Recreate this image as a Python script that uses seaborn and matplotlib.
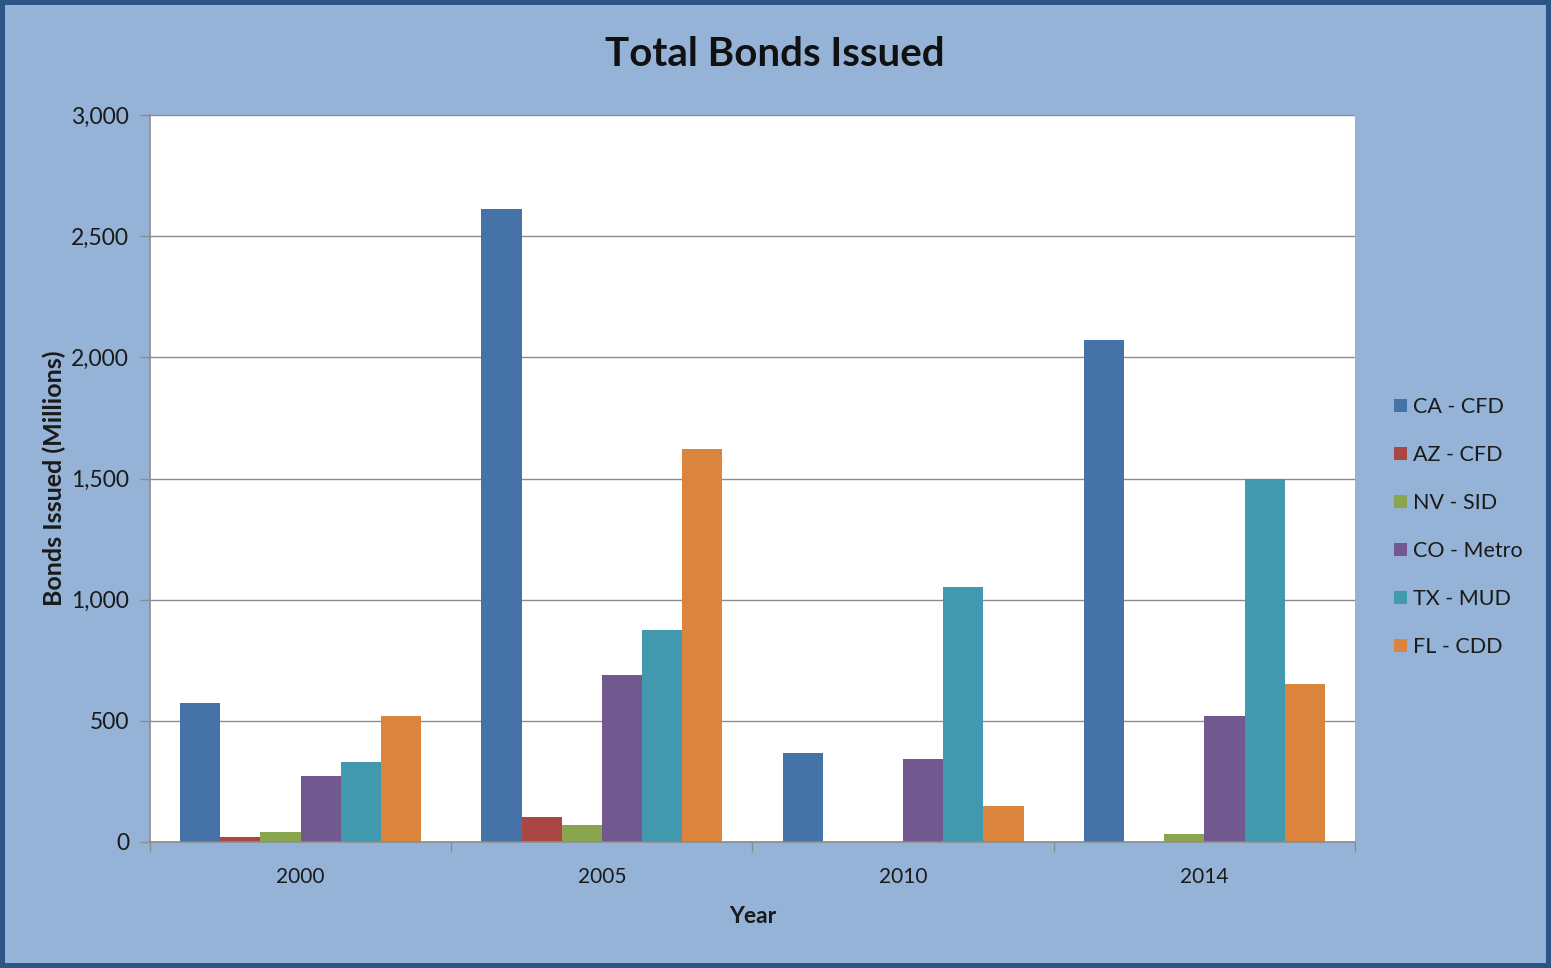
import matplotlib
matplotlib.use("Agg")
import matplotlib.pyplot as plt
import seaborn as sns
import pandas as pd
from matplotlib.ticker import FuncFormatter, FixedLocator

years = ["2000", "2005", "2010", "2014"]
series = ["CA - CFD", "AZ - CFD", "NV - SID", "CO - Metro", "TX - MUD", "FL - CDD"]
ca_cfd = [574, 2612, 368, 2072]
az_cfd = [20, 104, 0, 0]
nv_sid = [42, 70, 0, 32]
co_metro = [272, 689, 343, 520]
tx_mud = [330, 875, 1052, 1498]
fl_cdd = [520, 1622, 150, 652]
colors = ["#4572A7", "#AA4643", "#89A54E", "#71588F", "#4198AF", "#DB843D"]

values = [ca_cfd, az_cfd, nv_sid, co_metro, tx_mud, fl_cdd]
rows = []
for name, vals in zip(series, values):
    for y, v in zip(years, vals):
        rows.append({"Year": y, "Series": name, "Value": v})
df = pd.DataFrame(rows)

sns.set_theme(style="white")
plt.rcParams["font.family"] = ["Lato", "DejaVu Sans"]

fig = plt.figure(figsize=(15.51, 9.68), dpi=100)
fig.patch.set_facecolor("#95B3D7")
fig.patch.set_edgecolor("#2C5585")
fig.patch.set_linewidth(7)

W, H = 1551, 968
ax = fig.add_axes([150 / W, 1 - 842 / H, (1355 - 150) / W, (842 - 115) / H])
ax.set_facecolor("white")

sns.barplot(data=df, x="Year", y="Value", hue="Series", hue_order=series,
            order=years, palette=colors, width=0.8, saturation=1,
            edgecolor="none", linewidth=0, ax=ax, legend=True)

ax.set_ylim(0, 3000)
ax.set_xlim(-0.5, 3.5)
ax.set_yticks([0, 500, 1000, 1500, 2000, 2500, 3000])
ax.yaxis.set_major_formatter(FuncFormatter(lambda v, p: f"{int(v):,}"))
ax.yaxis.grid(True, color="#8C8C8C", linewidth=1)
ax.set_axisbelow(True)

ax.xaxis.set_minor_locator(FixedLocator([-0.5, 0.5, 1.5, 2.5, 3.5]))
ax.tick_params(axis="x", which="minor", length=7, width=1, color="#8C8C8C", direction="out", bottom=True)
ax.tick_params(axis="x", which="major", length=0, labelsize=15, labelcolor="#1A1A1A", pad=18)
ax.tick_params(axis="y", which="major", length=7, width=1, color="#8C8C8C", direction="out", left=True,
               labelsize=16.5, labelcolor="#1A1A1A", pad=8)

for side in ["top", "right"]:
    ax.spines[side].set_visible(False)
for side in ["left", "bottom"]:
    ax.spines[side].set_color("#8C8C8C")
    ax.spines[side].set_linewidth(1.2)

ax.set_xlabel("Year", fontsize=16.5, fontweight="bold", color="#1A1A1A", labelpad=14)
ax.set_ylabel("Bonds Issued (Millions)", fontsize=18, fontweight="bold", color="#1A1A1A", labelpad=4)

fig.text(775 / W, 1 - 54 / H, "Total Bonds Issued", ha="center", va="center",
         fontsize=29, fontweight="bold", color="#111111")

handles, labels = ax.get_legend_handles_labels()
ax.legend_.remove()
leg = fig.legend(handles, labels, loc="center left", bbox_to_anchor=(1385 / W, 1 - 527 / H),
                 frameon=False, fontsize=15.5, handlelength=0.6, handleheight=0.6,
                 handletextpad=0.3, labelspacing=1.3, borderaxespad=0)
for t in leg.get_texts():
    t.set_color("#1A1A1A")

fig.savefig("out.png", dpi=100, facecolor=fig.get_facecolor(), edgecolor=fig.get_edgecolor())
